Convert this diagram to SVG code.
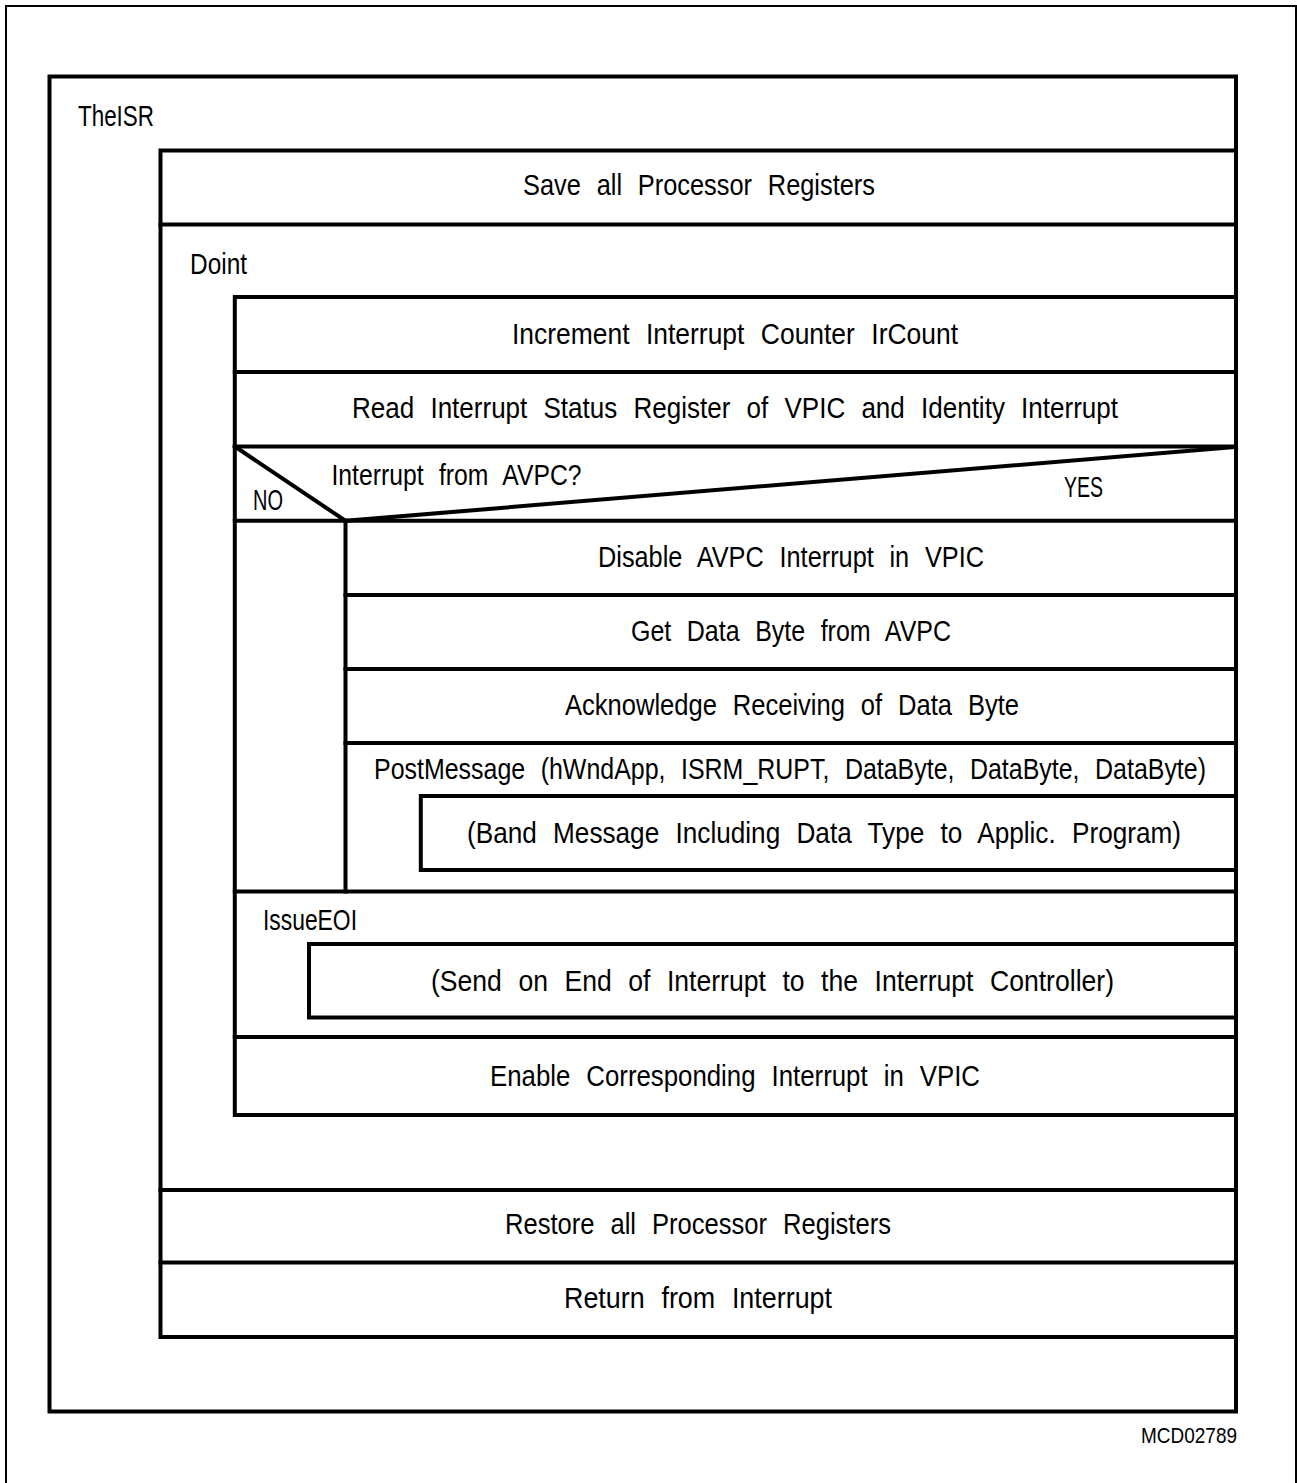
<svg xmlns="http://www.w3.org/2000/svg" width="1297" height="1483" viewBox="0 0 1297 1483">
  <style>
    .heavy { fill: none; stroke: #000; stroke-width: 4; stroke-linecap: square; }
    .thin { fill: none; stroke: #000; stroke-width: 2; }
    text { font-family: "Liberation Sans", Arial, sans-serif; font-size: 29px; fill: #000; word-spacing: 10px; }
    .small { font-size: 22px; word-spacing: 0; }
  </style>
  <rect width="1297" height="1483" fill="#fff"/>

  <!-- sheet border -->
  <path class="thin" d="M6,1484 V6 H1296 V1484"/>

  <!-- TheISR procedure -->
  <g id="theisr">
    <rect class="heavy" x="49.5" y="76.5" width="1186.5" height="1335"/>
    <text x="78" y="126" textLength="76" lengthAdjust="spacingAndGlyphs">TheISR</text>
    <rect class="heavy" x="160.5" y="150.5" width="1075.5" height="1186.5"/>
  </g>

  <g id="save-registers">
    <line class="heavy" x1="160.5" y1="224.5" x2="1236" y2="224.5"/>
    <text x="523" y="195" textLength="352" lengthAdjust="spacingAndGlyphs">Save all Processor Registers</text>
  </g>

  <!-- Doint sub-block -->
  <g id="doint">
    <line class="heavy" x1="160.5" y1="1190" x2="1236" y2="1190"/>
    <text x="190" y="274" textLength="57" lengthAdjust="spacingAndGlyphs">Doint</text>
    <rect class="heavy" x="234.8" y="297" width="1001.2" height="818"/>
  </g>

  <g id="increment-counter">
    <line class="heavy" x1="234.8" y1="372" x2="1236" y2="372"/>
    <text x="512" y="344" textLength="446" lengthAdjust="spacingAndGlyphs">Increment Interrupt Counter IrCount</text>
  </g>

  <g id="read-status">
    <line class="heavy" x1="234.8" y1="446.5" x2="1236" y2="446.5"/>
    <text x="352" y="418" textLength="766" lengthAdjust="spacingAndGlyphs">Read Interrupt Status Register of VPIC and Identity Interrupt</text>
  </g>

  <!-- decision: Interrupt from AVPC? -->
  <g id="decision-avpc">
    <line class="heavy" x1="234.8" y1="520.8" x2="1236" y2="520.8"/>
    <line class="heavy" x1="234.8" y1="446.5" x2="345.5" y2="520.8"/>
    <line class="heavy" x1="345.5" y1="520.8" x2="1236" y2="447"/>
    <text x="331.5" y="485" textLength="250" lengthAdjust="spacingAndGlyphs">Interrupt from AVPC?</text>
    <text x="253" y="510" textLength="30" lengthAdjust="spacingAndGlyphs">NO</text>
    <text x="1064" y="497" textLength="39" lengthAdjust="spacingAndGlyphs">YES</text>
  </g>

  <!-- YES branch -->
  <g id="yes-branch">
    <line class="heavy" x1="345.5" y1="520.8" x2="345.5" y2="891.5"/>
  </g>

  <g id="disable-avpc">
    <line class="heavy" x1="345.5" y1="595" x2="1236" y2="595"/>
    <text x="598" y="567" textLength="386" lengthAdjust="spacingAndGlyphs">Disable AVPC Interrupt in VPIC</text>
  </g>

  <g id="get-data-byte">
    <line class="heavy" x1="345.5" y1="669" x2="1236" y2="669"/>
    <text x="631" y="641" textLength="320" lengthAdjust="spacingAndGlyphs">Get Data Byte from AVPC</text>
  </g>

  <g id="acknowledge">
    <line class="heavy" x1="345.5" y1="743" x2="1236" y2="743"/>
    <text x="565" y="715" textLength="454" lengthAdjust="spacingAndGlyphs">Acknowledge Receiving of Data Byte</text>
  </g>

  <g id="post-message">
    <text x="374" y="779" textLength="832" lengthAdjust="spacingAndGlyphs">PostMessage (hWndApp, ISRM_RUPT, DataByte, DataByte, DataByte)</text>
    <rect class="heavy" x="420.8" y="796" width="815.2" height="74"/>
    <text x="467" y="843" textLength="714" lengthAdjust="spacingAndGlyphs">(Band Message Including Data Type to Applic. Program)</text>
  </g>

  <g id="issue-eoi">
    <line class="heavy" x1="234.8" y1="891.5" x2="1236" y2="891.5"/>
    <text x="263" y="930" textLength="94" lengthAdjust="spacingAndGlyphs">IssueEOI</text>
    <rect class="heavy" x="309" y="944" width="927" height="73.5"/>
    <text x="431" y="991" textLength="683" lengthAdjust="spacingAndGlyphs">(Send on End of Interrupt to the Interrupt Controller)</text>
  </g>

  <g id="enable-interrupt">
    <line class="heavy" x1="234.8" y1="1037" x2="1236" y2="1037"/>
    <text x="490" y="1086" textLength="490" lengthAdjust="spacingAndGlyphs">Enable Corresponding Interrupt in VPIC</text>
  </g>

  <g id="restore-registers">
    <text x="505" y="1234" textLength="386" lengthAdjust="spacingAndGlyphs">Restore all Processor Registers</text>
  </g>

  <g id="return-interrupt">
    <line class="heavy" x1="160.5" y1="1262.5" x2="1236" y2="1262.5"/>
    <text x="564" y="1308" textLength="268" lengthAdjust="spacingAndGlyphs">Return from Interrupt</text>
  </g>

  <text class="small" x="1141" y="1443" textLength="96" lengthAdjust="spacingAndGlyphs">MCD02789</text>
</svg>
